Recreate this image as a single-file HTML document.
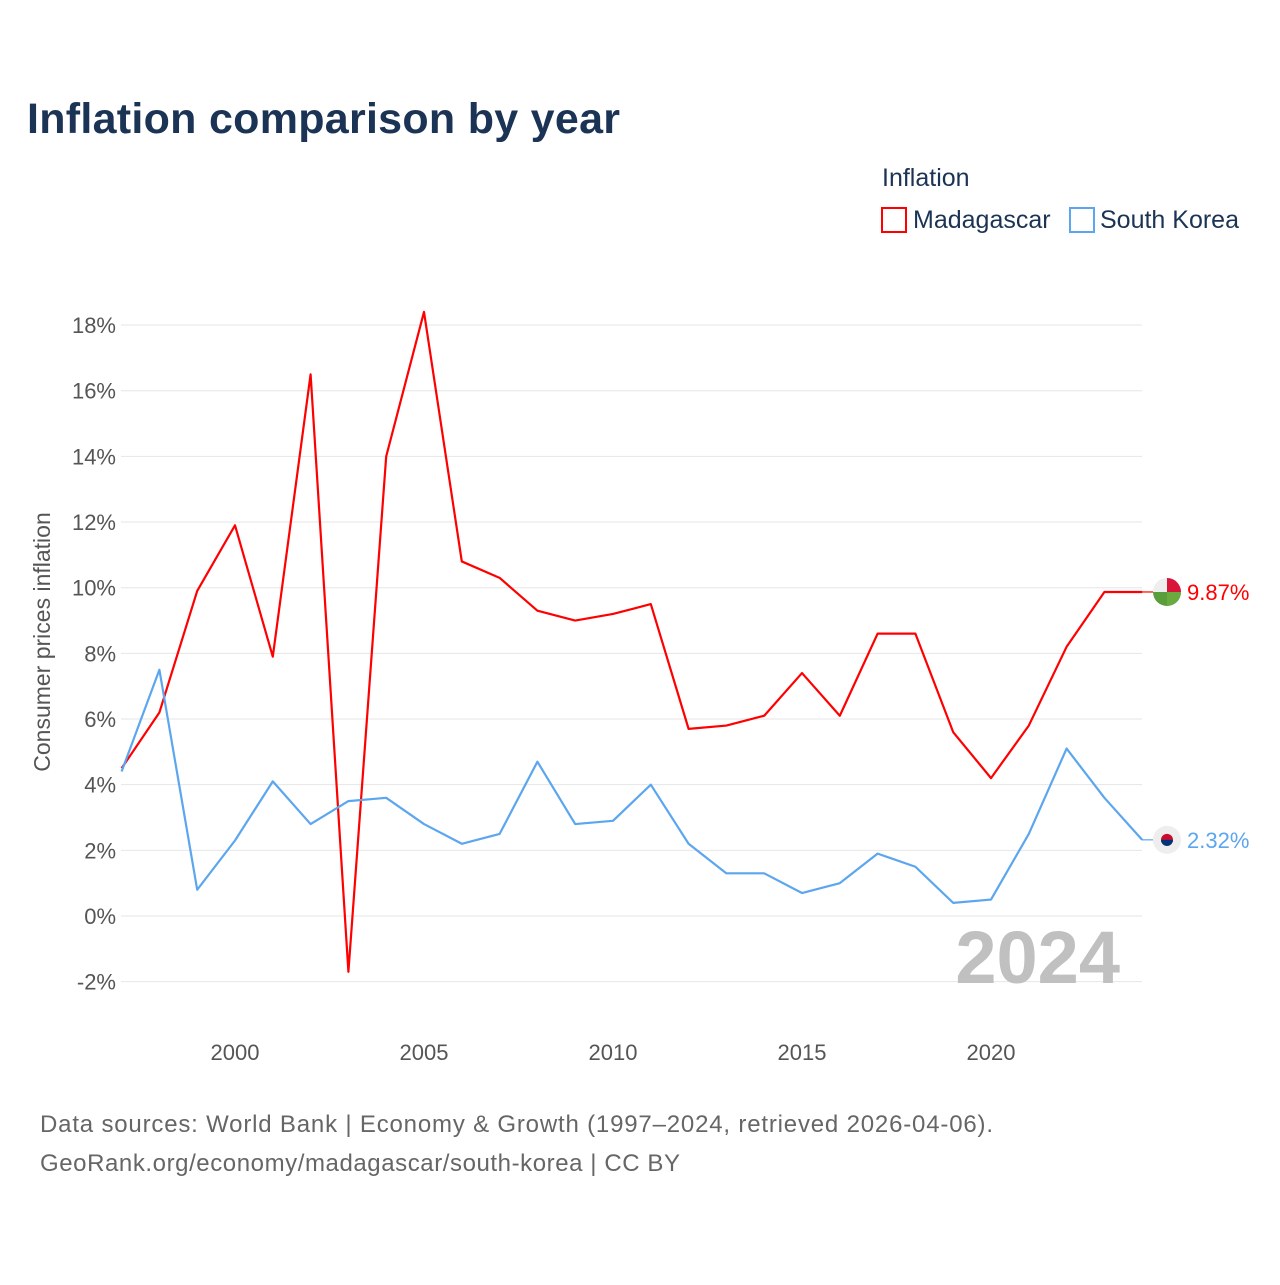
<!DOCTYPE html>
<html><head><meta charset="utf-8"><style>
body{margin:0;background:#fff;font-family:"Liberation Sans",sans-serif}
</style></head><body>
<svg width="1280" height="1280" xmlns="http://www.w3.org/2000/svg">
<text x="27" y="133" font-size="43" font-weight="bold" fill="#1b3354" textLength="593">Inflation comparison by year</text>
<text x="882" y="186" font-size="25" fill="#1b3354">Inflation</text>
<g><rect x="882" y="208" width="24" height="24" fill="none" stroke="#f00" stroke-width="2"/><text x="913" y="228" font-size="25" fill="#1b3354">Madagascar</text></g>
<g><rect x="1070" y="208" width="24" height="24" fill="none" stroke="#5ba6ee" stroke-width="2"/><text x="1100" y="228" font-size="25" fill="#1b3354">South Korea</text></g>
<g id="grid"></g><g id="yt"></g><g id="xt"></g>
<text transform="translate(50,642) rotate(-90)" text-anchor="middle" font-size="23" fill="#555">Consumer prices inflation</text>
<text x="1120" y="983" text-anchor="end" font-size="74" font-weight="bold" fill="#c0c0c0">2024</text>
<g id="series"></g>
<text x="40" y="1132" font-size="24" fill="#666" textLength="953">Data sources: World Bank | Economy &amp; Growth (1997–2024, retrieved 2026-04-06).</text>
<text x="40" y="1171" font-size="24" fill="#666" textLength="640">GeoRank.org/economy/madagascar/south-korea | CC BY</text>
</svg>
<script>
const years=[1997,1998,1999,2000,2001,2002,2003,2004,2005,2006,2007,2008,2009,2010,2011,2012,2013,2014,2015,2016,2017,2018,2019,2020,2021,2022,2023,2024];
const madagascar=[4.5,6.2,9.9,11.9,7.9,16.5,-1.7,14.0,18.4,10.8,10.3,9.3,9.0,9.2,9.5,5.7,5.8,6.1,7.4,6.1,8.6,8.6,5.6,4.2,5.8,8.2,9.87,9.87];
const korea=[4.4,7.5,0.8,2.3,4.1,2.8,3.5,3.6,2.8,2.2,2.5,4.7,2.8,2.9,4.0,2.2,1.3,1.3,0.7,1.0,1.9,1.5,0.4,0.5,2.5,5.1,3.6,2.32];
const yTicks=[-2,0,2,4,6,8,10,12,14,16,18];
const xTicks=[2000,2005,2010,2015,2020];
const NS="http://www.w3.org/2000/svg";
const X=v=>121.6+(v-1997)*37.8, Y=v=>916-v*32.83;
function mk(t,a,p){const e=document.createElementNS(NS,t);for(const k in a)e.setAttribute(k,a[k]);p.appendChild(e);return e;}
const grid=document.getElementById('grid'),yt=document.getElementById('yt'),xt=document.getElementById('xt'),ser=document.getElementById('series');
yTicks.forEach(v=>{
 const l=mk('line',{x1:121,x2:1142,y1:Y(v),y2:Y(v),stroke:'#e6e6e6','stroke-width':1},grid);
 
 
 const t=mk('text',{x:116,y:Y(v)+8,'text-anchor':'end','font-size':22,fill:'#555'},yt);t.textContent=v+'%';
 
 
});
xTicks.forEach(v=>{
 const t=mk('text',{x:X(v),y:1060,'text-anchor':'middle','font-size':22,fill:'#555'},xt);t.textContent=v;
 
 
});
function line(d,c,name){
 const p=mk('polyline',{points:d.map((v,i)=>X(years[i])+','+Y(v)).join(' '),fill:'none',stroke:c,'stroke-width':2.2,'stroke-linejoin':'round'},ser);
 
 
 const last=d[d.length-1];
 const g=mk('g',{},ser);
 
 
 mk('line',{x1:1142,x2:1155,y1:Y(last),y2:Y(last),stroke:c,'stroke-width':1.2},g);
 mk('circle',{cx:1167,cy:Y(last),r:14,fill:'#eee'},g);
 const t=mk('text',{x:1187,y:Y(last)+8,'font-size':22,fill:c},g);t.textContent=last.toFixed(2)+'%';
 return g;
}
const gm=line(madagascar,'#ff0000','madagascar-line');
const yl=Y(madagascar[madagascar.length-1]);
mk('path',{d:`M1167 ${yl} L1167 ${yl-14} A14 14 0 0 1 1181 ${yl} Z`,fill:'#d9143a'},gm);
mk('path',{d:`M1167 ${yl} L1181 ${yl} A14 14 0 0 1 1167 ${yl+14} A14 14 0 0 1 1153 ${yl} L1167 ${yl} Z`,fill:'#5a9e3c'},gm);
mk('path',{d:`M1167 ${yl} L1181 ${yl} A14 14 0 0 1 1167 ${yl+14} Z`,fill:'#6aab3f'},gm);
const gk=line(korea,'#5ba6ee','south-korea-line');
const yk=Y(korea[korea.length-1]);
mk('circle',{cx:1167,cy:yk,r:6,fill:'#c60c30'},gk);
mk('path',{d:`M1161 ${yk} A6 6 0 0 0 1173 ${yk} Z`,fill:'#003478'},gk);
</script>
</body></html>
